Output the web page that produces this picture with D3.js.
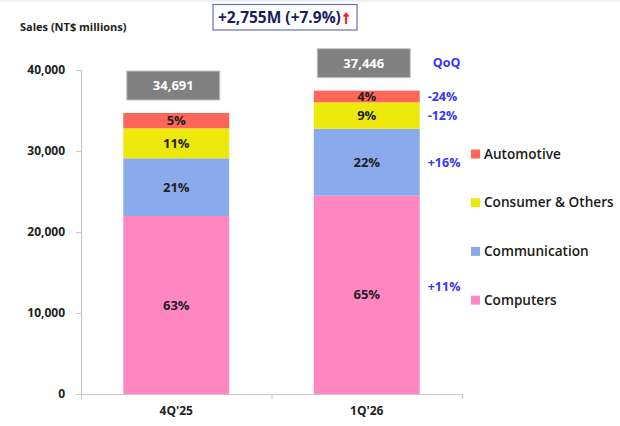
<!DOCTYPE html>
<html>
<head>
<meta charset="utf-8">
<script src="https://cdn.jsdelivr.net/npm/d3@7"></script>
<style>
  body { margin: 0; background: #fff; }
  svg text { font-family: "Open Sans", "Liberation Sans", sans-serif; }
</style>
</head>
<body>
<div id="chart"></div>
<script>
// data
var quarters = ["4Q'25", "1Q'26"];
var segments = ["Computers", "Communication", "Consumer & Others", "Automotive"];
var computers = [21975, 24487];
var communication = [7124, 8264];
var consumer = [3703, 3259];
var automotive = [1889, 1436];
var totals = [34691, 37446];
var shareLabels = [["63%", "21%", "11%", "5%"], ["65%", "22%", "9%", "4%"]];
var qoqLabels = ["+11%", "+16%", "-12%", "-24%"];
var yTicks = [0, 10000, 20000, 30000, 40000];
var headline = "+2,755M (+7.9%)";

var colors = {
    "Computers": "#ff86c1",
    "Communication": "#8aaaeb",
    "Consumer & Others": "#ece80b",
    "Automotive": "#ff665a"
};

var width = 620, height = 426;
var margin = {top: 70, right: 158, bottom: 32, left: 81};

var svg = d3.select("#chart").append("svg")
    .attr("width", width)
    .attr("height", height);

// faint strip along the top
svg.append("rect")
    .attr("x", 0).attr("y", 0)
    .attr("width", width).attr("height", 2)
    .attr("fill", "#eef2f8");

// scales
var x = d3.scaleBand()
    .domain(quarters)
    .range([margin.left, width - margin.right])
    .paddingInner(0.444)
    .paddingOuter(0.222);

var xEdge = d3.scaleLinear()
    .domain([0, quarters.length])
    .range([margin.left, width - margin.right]);

var y = d3.scaleLinear()
    .domain([0, 40000])
    .range([height - margin.bottom, margin.top]);

// stack the series
var table = quarters.map(function (q, i) {
    return {
        quarter: q,
        "Computers": computers[i],
        "Communication": communication[i],
        "Consumer & Others": consumer[i],
        "Automotive": automotive[i]
    };
});
var stacked = d3.stack().keys(segments)(table);

// y axis
var yAxis = svg.append("g")
    .attr("transform", "translate(" + margin.left + ",0)")
    .call(d3.axisLeft(y).tickValues(yTicks).tickSize(5).tickPadding(11)
        .tickFormat(d3.format(",")));
yAxis.select(".domain").attr("stroke", "#c8c8c8").attr("stroke-width", 1.2);
yAxis.selectAll(".tick line").attr("stroke", "#c8c8c8");
yAxis.selectAll(".tick text")
    .attr("fill", "#222")
    .style("font-size", "12px")
    .style("font-weight", "bold");

// x axis: edge ticks + category labels
var xAxis = svg.append("g")
    .attr("transform", "translate(0," + y(0) + ")")
    .call(d3.axisBottom(xEdge).ticks(quarters.length).tickSize(5).tickFormat(""));
xAxis.select(".domain").attr("stroke", "#c8c8c8").attr("stroke-width", 1.2);
xAxis.selectAll(".tick line").attr("stroke", "#c8c8c8");

svg.append("g")
    .attr("transform", "translate(0," + y(0) + ")")
    .call(d3.axisBottom(x).tickSize(0).tickPadding(12))
    .call(function (g) { g.select(".domain").remove(); })
    .selectAll("text")
    .attr("fill", "#222")
    .style("font-size", "12px")
    .style("font-weight", "bold");

// bars
var layers = svg.append("g").selectAll("g")
    .data(stacked)
    .enter().append("g")
    .attr("fill", function (d) { return colors[d.key]; });

layers.selectAll("rect")
    .data(function (d) { return d; })
    .enter().append("rect")
    .attr("x", function (d) { return x(d.data.quarter); })
    .attr("width", x.bandwidth())
    .attr("y", function (d) { return y(d[1]); })
    .attr("height", function (d) { return y(d[0]) - y(d[1]); });

// share labels inside segments
stacked.forEach(function (layer, k) {
    svg.append("g").selectAll("text")
        .data(layer)
        .enter().append("text")
        .attr("x", function (d) { return x(d.data.quarter) + x.bandwidth() / 2; })
        .attr("y", function (d) { return (y(d[0]) + y(d[1])) / 2; })
        .attr("dy", "0.35em")
        .attr("text-anchor", "middle")
        .attr("fill", "#222")
        .style("font-size", "13px")
        .style("font-weight", "bold")
        .text(function (d, i) { return shareLabels[i][k]; });
});

// gray total boxes
var boxW = 93, boxH = 29;
var totalBoxes = svg.append("g").selectAll("g")
    .data(quarters)
    .enter().append("g")
    .attr("transform", function (q, i) {
        var cx = x(q) + x.bandwidth() / 2 - 3;
        return "translate(" + (cx - boxW / 2) + "," + (y(totals[i]) - 13 - boxH) + ")";
    });
totalBoxes.append("rect")
    .attr("width", boxW).attr("height", boxH)
    .attr("fill", "#808080")
    .attr("stroke", "#c4c4c4")
    .attr("stroke-width", 1);
totalBoxes.append("text")
    .attr("x", boxW / 2).attr("y", boxH / 2)
    .attr("dy", "0.36em")
    .attr("text-anchor", "middle")
    .attr("fill", "#fff")
    .style("font-size", "13px")
    .style("font-weight", "bold")
    .text(function (q, i) { return d3.format(",")(totals[i]); });

// QoQ labels beside second bar
var last = quarters.length - 1;
var qx = x(quarters[last]) + x.bandwidth() + 8;
svg.append("text")
    .attr("x", qx + 5).attr("y", y(totals[last]) - 28)
    .attr("dy", "0.35em")
    .attr("fill", "#3535f8")
    .style("font-size", "12.5px")
    .style("font-weight", "bold")
    .text("QoQ");
stacked.forEach(function (layer, k) {
    var d = layer[last];
    svg.append("text")
        .attr("x", qx).attr("y", (y(d[0]) + y(d[1])) / 2 - (k === 0 ? 8 : 0))
        .attr("dy", "0.35em")
        .attr("fill", "#3535f8")
        .style("font-size", "12.5px")
        .style("font-weight", "bold")
        .text(qoqLabels[k]);
});

// legend (top to bottom: Automotive ... Computers)
var legend = svg.append("g").selectAll("g")
    .data(segments.slice().reverse())
    .enter().append("g")
    .attr("transform", function (d, i) { return "translate(471," + (154 + i * 48.7) + ")"; });
legend.append("rect")
    .attr("x", 0).attr("y", -4.5)
    .attr("width", 9).attr("height", 9)
    .attr("fill", function (d) { return colors[d]; });
legend.append("text")
    .attr("x", 13).attr("y", 0)
    .attr("dy", "0.35em")
    .attr("fill", "#1a1a1a")
    .style("font-size", "13.6px")
    .style("font-weight", 600)
    .text(function (d) { return d; });

// y axis caption
svg.append("text")
    .attr("x", 20).attr("y", 31)
    .attr("fill", "#222")
    .style("font-size", "11px")
    .style("font-weight", "bold")
    .text("Sales (NT$ millions)");

// headline box
var head = svg.append("g").attr("transform", "translate(213,4.5)");
head.append("rect")
    .attr("width", 144).attr("height", 25.5)
    .attr("fill", "#fff")
    .attr("stroke", "#6e6eb0")
    .attr("stroke-width", 1.2);
var headText = head.append("text")
    .attr("x", 5).attr("y", 13)
    .attr("dy", "0.36em")
    .style("font-size", "15.5px")
    .style("font-weight", "bold");
headText.append("tspan").attr("fill", "#1c1c5e").text(headline);
headText.append("tspan")
    .attr("fill", "#ff1a1a")
    .attr("stroke", "#ff1a1a")
    .attr("stroke-width", 1.3)
    .attr("dx", 1)
    .style("font-size", "17px")
    .text("\u2191");
</script>
</body>
</html>
